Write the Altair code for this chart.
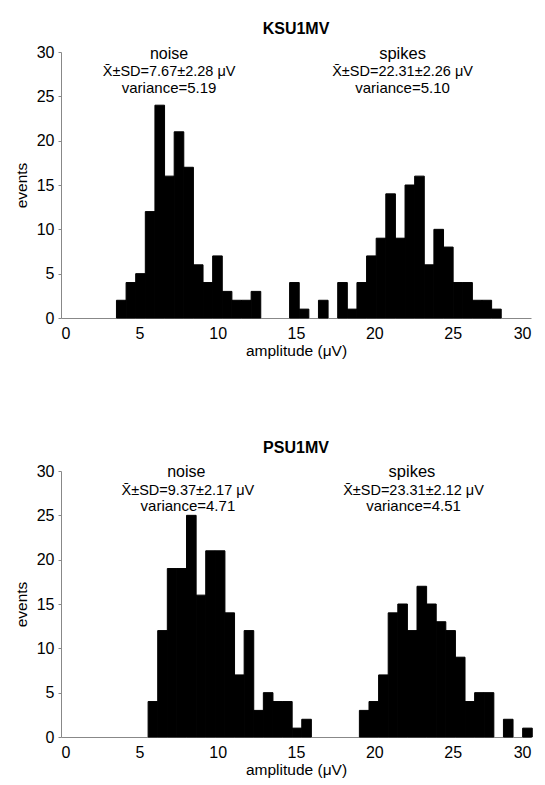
import altair as alt
import numpy as np
import pandas as pd

# ---- data ----
ticks = [0, 5, 10, 15, 20, 25, 30]

ksu_range = [3.54, 28.10]          # amplitude range covered by the 40 bins (µV)
ksu_counts = [2, 4, 5, 12, 24, 16, 21, 17, 6, 4, 7, 3, 2, 2, 3, 0, 0, 0, 4, 1,
              0, 2, 0, 4, 1, 4, 7, 9, 14, 9, 15, 16, 6, 10, 8, 4, 4, 2, 2, 1]

psu_range = [5.56, 30.08]
psu_counts = [4, 12, 19, 19, 25, 16, 21, 21, 14, 7, 12, 3, 5, 4, 4, 1, 2, 0, 0, 0,
              0, 0, 3, 4, 7, 14, 15, 12, 17, 15, 13, 12, 9, 4, 5, 5, 0, 2, 0, 1]

ksu_labels = ["noise", "X\u0304\u00b1SD=7.67\u00b12.28 \u03bcV", "variance=5.19",
              "spikes", "X\u0304\u00b1SD=22.31\u00b12.26 \u03bcV", "variance=5.10"]
ksu_lab_x = [6.9, 6.9, 6.9, 21.8, 21.8, 21.8]
ksu_lab_y = [29.8, 27.7, 25.9, 29.8, 27.7, 25.9]

psu_labels = ["noise", "X\u0304\u00b1SD=9.37\u00b12.17 \u03bcV", "variance=4.71",
              "spikes", "X\u0304\u00b1SD=23.31\u00b12.12 \u03bcV", "variance=4.51"]
psu_lab_x = [8.0, 8.1, 8.1, 22.4, 22.5, 22.5]
psu_lab_y = [29.9, 27.7, 26.0, 29.9, 27.7, 26.0]

lab_size = [16, 14.5, 15, 16.5, 14.5, 15]

FONT = "Liberation Sans"


def panel(counts, rng, title, labels, lx, ly):
    edges = np.linspace(rng[0], rng[1], len(counts) + 1)
    df = pd.DataFrame({"x0": edges[:-1], "x1": edges[1:], "n": counts})
    df = df[df["n"] > 0]
    xs = alt.Scale(domain=[0, 30], nice=False, zero=False)
    ys = alt.Scale(domain=[0, 30], nice=False)
    bars = alt.Chart(df).mark_bar(color="black", stroke="black", strokeWidth=1).encode(
        x=alt.X("x0:Q", scale=xs,
                axis=alt.Axis(title="amplitude (\u03bcV)", values=ticks, grid=False,
                              ticks=False, labelPadding=7, titlePadding=2)),
        x2="x1:Q",
        y=alt.Y("n:Q", scale=ys,
                axis=alt.Axis(title="events", values=ticks, grid=False,
                              labelPadding=4, titlePadding=7)),
        y2=alt.datum(0),
    )
    ann = pd.DataFrame({"x": lx, "y": ly, "t": labels, "s": lab_size})
    text = alt.Chart(ann).mark_text(font=FONT, baseline="middle", align="center",
                                    color="black").encode(
        x=alt.X("x:Q", scale=xs),
        y=alt.Y("y:Q", scale=ys),
        text="t:N",
        size=alt.Size("s:Q", scale=None, legend=None),
    )
    return alt.layer(bars, text).properties(
        width=470, height=266,
        title=alt.TitleParams(title, font=FONT, fontSize=16, fontWeight="bold",
                              color="black", offset=7, anchor="middle"),
    )


top = panel(ksu_counts, ksu_range, "KSU1MV", ksu_labels, ksu_lab_x, ksu_lab_y)
bottom = panel(psu_counts, psu_range, "PSU1MV", psu_labels, psu_lab_x, psu_lab_y)

chart = alt.vconcat(top, bottom, spacing=81).properties(
    padding={"left": 14, "top": 21, "right": 5, "bottom": 5},
    background="white",
).configure_view(stroke=None).configure_axis(
    labelFont=FONT, labelFontSize=16, labelColor="black",
    titleFont=FONT, titleFontSize=15.5, titleFontWeight="normal", titleColor="black",
    domainColor="#888888", domainWidth=1, tickColor="#888888", tickSize=3,
)

chart.save("out.html", embed_options={"renderer": "svg", "actions": False})
